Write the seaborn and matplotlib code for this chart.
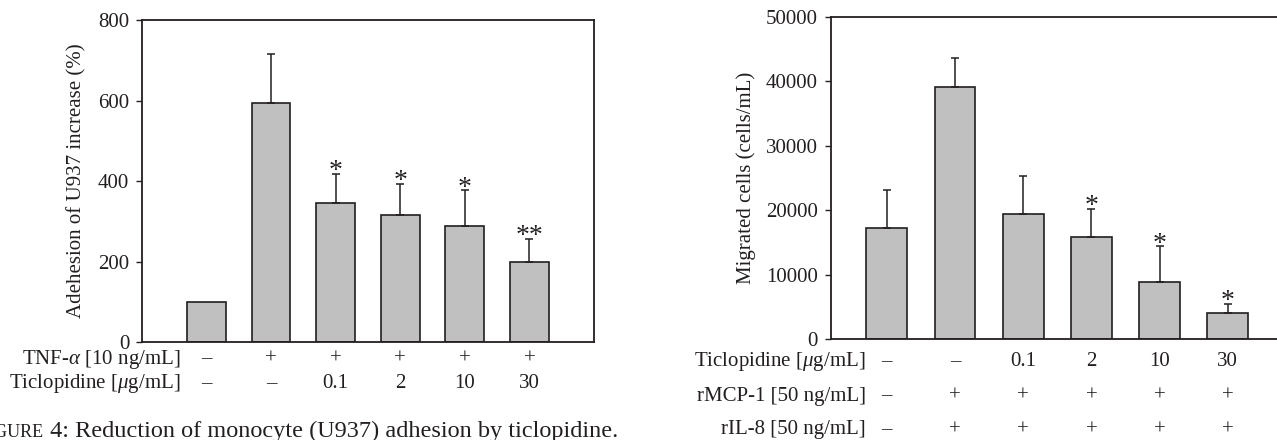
import numpy as np
import pandas as pd
import matplotlib
matplotlib.use("Agg")
import matplotlib.pyplot as plt
import seaborn as sns

# Figure 4 (left): adhesion of U937 cells, % of control
adh_mean = [100, 594, 347, 316, 289, 199]
adh_sd = [0, 121, 71, 77, 88, 57]
adh_stars = ["", "", "*", "*", "*", "**"]
adh_tnf = ["–", "+", "+", "+", "+", "+"]
adh_ticlo = ["–", "–", "0.1", "2", "10", "30"]
adh_yticks = [0, 200, 400, 600, 800]

# right: migrated cells (cells/mL)
mig_mean = [17300, 39100, 19450, 15800, 8930, 4080]
mig_sd = [5900, 4550, 5900, 4450, 5470, 1390]
mig_stars = ["", "", "", "*", "*", "*"]
mig_ticlo = ["–", "–", "0.1", "2", "10", "30"]
mig_mcp = ["–", "+", "+", "+", "+", "+"]
mig_il8 = ["–", "+", "+", "+", "+", "+"]
mig_yticks = [0, 10000, 20000, 30000, 40000, 50000]

BAR = "#c0c0c0"
INK = "#231f20"
FS = 15

sns.set_style("white")
plt.rcParams["font.family"] = ["Liberation Serif", "DejaVu Serif"]
plt.rcParams["mathtext.fontset"] = "custom"
plt.rcParams["mathtext.rm"] = "Liberation Serif"
plt.rcParams["mathtext.it"] = "Liberation Serif:italic"

W, H = 1277, 440
fig = plt.figure(figsize=(W / 100, H / 100), dpi=100)
fig.patch.set_facecolor("white")


def px_axes(left, top, right, bottom):
    return fig.add_axes([left / W, 1 - bottom / H, (right - left) / W, (bottom - top) / H])


def draw_panel(ax, means, sds, stars, yticks, ylabel):
    df = pd.DataFrame({"group": [f"g{i}" for i in range(len(means))], "value": means})
    sns.barplot(data=df, x="group", y="value", color=BAR, saturation=1, width=0.6,
                edgecolor=INK, linewidth=1.2, errorbar=None, ax=ax)
    x = np.arange(len(means))
    m = np.array(sds) > 0
    ax.errorbar(x[m], np.array(means)[m], yerr=[np.zeros(m.sum()), np.array(sds)[m]],
                fmt="none", ecolor=INK, elinewidth=1.1, capsize=3, capthick=1.1, zorder=3)
    for i, s in enumerate(stars):
        if s:
            ax.annotate(s, xy=(i, means[i] + sds[i]), xytext=(0, -3), textcoords="offset points",
                        ha="center", va="baseline", fontsize=20, color=INK)
    ax.set_ylim(yticks[0], yticks[-1])
    ax.set_yticks(yticks)
    ax.set_xticks([])
    ax.set_xlabel("")
    ax.set_ylabel(ylabel, fontsize=FS, color=INK)
    ax.tick_params(axis="y", left=True, direction="out", length=4, width=1,
                   pad=5, labelsize=FS, colors=INK)
    for sp in ax.spines.values():
        sp.set_visible(True)
        sp.set_linewidth(1.3)
        sp.set_color(INK)


def row(ax, y, label, marks, label_x):
    tr = ax.get_xaxis_transform()
    ax.text(label_x, y, label, transform=tr, ha="right", va="center", fontsize=FS, color=INK)
    for i, t in enumerate(marks):
        ax.text(i, y, t, transform=tr, ha="center", va="center", fontsize=FS, color=INK)


# left panel
ax1 = px_axes(141.7, 20, 594, 342.3)
draw_panel(ax1, adh_mean, adh_sd, adh_stars, adh_yticks, "Adehesion of U937 increase (%)")
ax1.set_xlim(-1, 6)
ax1.yaxis.set_label_coords(-0.121, 0.5)
row(ax1, -0.052, r"TNF-$\alpha$ [10 ng/mL]", adh_tnf, -0.396)
row(ax1, -0.128, r"Ticlopidine [$\mu$g/mL]", adh_ticlo, -0.396)

# right panel (runs off the right edge of the picture)
ax2 = px_axes(830.6, 16.7, 1284, 339.3)
draw_panel(ax2, mig_mean, mig_sd, mig_stars, mig_yticks, "Migrated cells (cells/mL)")
ax2.set_xlim(-0.825, 5.825)
ax2.yaxis.set_label_coords(-0.165, 0.5)
row(ax2, -0.068, r"Ticlopidine [$\mu$g/mL]", mig_ticlo, -0.31)
row(ax2, -0.176, "rMCP-1 [50 ng/mL]", mig_mcp, -0.31)
row(ax2, -0.28, "rIL-8 [50 ng/mL]", mig_il8, -0.31)

# caption, cut at the left and bottom edges like the source page
fig.canvas.draw()
renderer = fig.canvas.get_renderer()
cap_y = 1 - 437 / H
main = fig.text(618 / W, cap_y, " 4: Reduction of monocyte (U937) adhesion by ticlopidine.",
                ha="right", va="baseline", fontsize=17.5, color=INK)
x0 = main.get_window_extent(renderer).x0
sc = fig.text(x0 / W, cap_y, "IGURE", ha="right", va="baseline", fontsize=13, color=INK)
x1 = sc.get_window_extent(renderer).x0
fig.text(x1 / W, cap_y, "F", ha="right", va="baseline", fontsize=17.5, color=INK)

fig.savefig("out.png", dpi=100)
